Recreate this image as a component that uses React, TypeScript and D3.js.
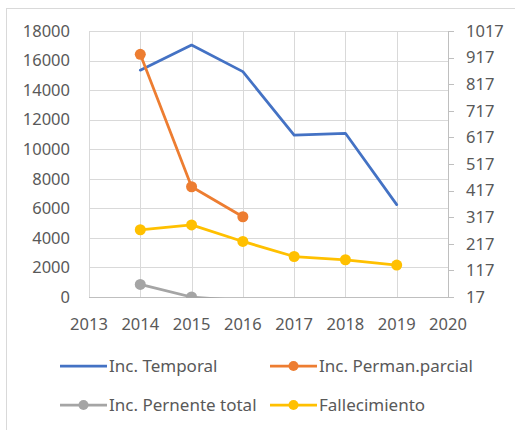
import React from 'react';
import * as d3 from 'd3';

const years = [2014, 2015, 2016, 2017, 2018, 2019];
const temporal = [15350, 17050, 15250, 10950, 11080, 6250];
const permanParcial = [16420, 7460, 5430];
const pernenteTotal = [850, 0, -250];
const fallecimiento = [4550, 4880, 3760, 2740, 2520, 2160];

const leftTicks = [0, 2000, 4000, 6000, 8000, 10000, 12000, 14000, 16000, 18000];
const rightTicks = [17, 117, 217, 317, 417, 517, 617, 717, 817, 917, 1017];
const xTicks = [2013, 2014, 2015, 2016, 2017, 2018, 2019, 2020];

const series = [
  { name: 'Inc. Temporal', color: '#4472c4', values: temporal, marker: false },
  { name: 'Inc. Perman.parcial', color: '#ed7d31', values: permanParcial, marker: true },
  { name: 'Inc. Pernente total', color: '#a5a5a5', values: pernenteTotal, marker: true },
  { name: 'Fallecimiento', color: '#ffc000', values: fallecimiento, marker: true },
];

const font = '"Noto Sans", "Liberation Sans", sans-serif';
const textColor = '#595959';

const App = () => {
  const left = 89, right = 448, top = 31, bottom = 297;

  const x = d3.scaleLinear().domain([2013, 2020]).range([left, right]);
  const y = d3.scaleLinear().domain([0, 18000]).range([bottom, top]);
  const yR = d3.scaleLinear().domain([17, 1017]).range([bottom, top]);

  const line = d3.line<[number, number]>()
    .x(d => x(d[0]))
    .y(d => y(d[1]));

  // legend layout
  const legendPos = [
    { lx: 60, ly: 366 },
    { lx: 270, ly: 366 },
    { lx: 60, ly: 405 },
    { lx: 270, ly: 405 },
  ];

  return (
    <svg width={515} height={430} style={{ position: 'absolute', left: 0, top: 0 }} fontFamily={font}>
      <rect x={0} y={0} width={515} height={430} fill="#fff" />
      <rect x={6.5} y={8.5} width={530} height={440} fill="none" stroke="#d9d9d9" />
      <defs>
        <clipPath id="plot-clip">
          <rect x={left - 10} y={top - 10} width={right - left + 20} height={bottom - top + 11} />
        </clipPath>
      </defs>

      {/* gridlines */}
      {leftTicks.map(t => (
        <line key={'h' + t} x1={left} x2={right} y1={Math.round(y(t)) + 0.5} y2={Math.round(y(t)) + 0.5}
          stroke={t === 0 ? '#bfbfbf' : '#d9d9d9'} strokeWidth={1} />
      ))}
      {xTicks.map(t => (
        <line key={'v' + t} x1={Math.round(x(t)) + 0.5} x2={Math.round(x(t)) + 0.5} y1={top} y2={bottom}
          stroke={t === 2020 ? '#bfbfbf' : '#d9d9d9'} strokeWidth={1} />
      ))}

      {/* right axis ticks */}
      {rightTicks.map(t => (
        <line key={'rt' + t} x1={right} x2={right + 6} y1={Math.round(yR(t)) + 0.5} y2={Math.round(yR(t)) + 0.5}
          stroke="#bfbfbf" />
      ))}

      {/* labels */}
      {leftTicks.map(t => (
        <text key={'lt' + t} x={70} y={y(t)} dy="0.35em" textAnchor="end" fontSize={16.5} fill={textColor}>{t}</text>
      ))}
      {rightTicks.map(t => (
        <text key={'rl' + t} x={466} y={yR(t)} dy="0.35em" textAnchor="start" fontSize={16.5} fill={textColor}>{t}</text>
      ))}
      {xTicks.map(t => (
        <text key={'xl' + t} x={x(t)} y={330} textAnchor="middle" fontSize={16.5} fill={textColor}>{t}</text>
      ))}

      {/* series */}
      <g clipPath="url(#plot-clip)">
        {series.map(s => {
          const pts = s.values.map((v, i) => [years[i], v] as [number, number]);
          return (
            <g key={s.name}>
              <path d={line(pts) || ''} fill="none" stroke={s.color} strokeWidth={2.75}
                strokeLinejoin="round" strokeLinecap="round" />
              {s.marker && pts.filter(p => p[1] >= 0).map(p => (
                <circle key={p[0]} cx={x(p[0])} cy={y(p[1])} r={5.5} fill={s.color} />
              ))}
            </g>
          );
        })}
      </g>

      {/* legend */}
      {series.map((s, i) => {
        const { lx, ly } = legendPos[i];
        return (
          <g key={'lg' + s.name}>
            <line x1={lx} x2={lx + 47} y1={ly} y2={ly} stroke={s.color} strokeWidth={2.75} />
            {s.marker && <circle cx={lx + 23.5} cy={ly} r={5} fill={s.color} />}
            <text x={lx + 49} y={ly} dy="0.35em" fontSize={17} fill={textColor}>{s.name}</text>
          </g>
        );
      })}
    </svg>
  );
};

export default App;
